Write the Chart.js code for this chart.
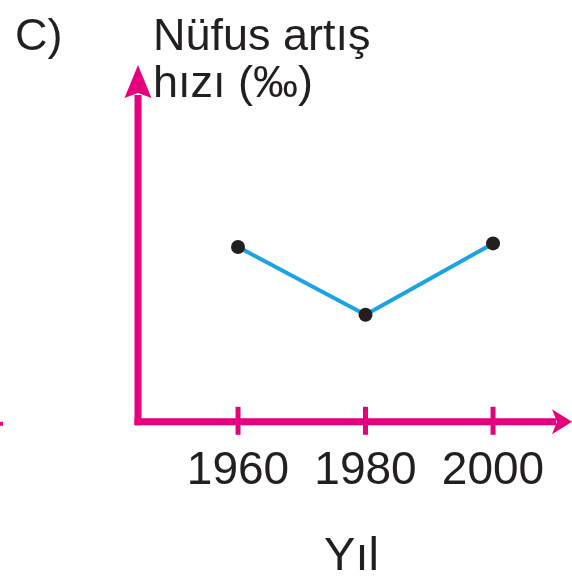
<!DOCTYPE html>
<html>
<head>
<meta charset="utf-8">
<script src="https://cdn.jsdelivr.net/npm/chart.js@4.4.1/dist/chart.umd.min.js"></script>
<style>
  body { margin: 0; background: #fff; }
  #wrap { width: 572px; height: 578px; position: relative; }
</style>
</head>
<body>
<div id="wrap"><canvas id="chart"></canvas></div>
<script>
// values
const years = [1960, 1980, 2000]
const rates = [4.9, 3.0, 5.0]
const xTicks = [1960, 1980, 2000]
const yTitle = ["Nüfus artış", "hızı (‰)"]
const xTitle = "Yıl"
const panelLabel = "C)"

const magenta = "#e6007e"
const ink = "#231f20"
const font = "'Liberation Sans', Arial, Helvetica, sans-serif"

// axes, arrows, tick marks and captions
const axesPlugin = {
    id: "axes",
    beforeDatasetsDraw(chart) {
        const ctx = chart.ctx
        const area = chart.chartArea
        const x = chart.scales.x
        const ox = area.left, oy = area.bottom
        const tipX = chart.width
        ctx.save()
        ctx.strokeStyle = magenta
        ctx.fillStyle = magenta
        ctx.lineWidth = 7
        ctx.lineCap = "butt"
        // y axis
        ctx.beginPath()
        ctx.moveTo(ox, oy + 3.5)
        ctx.lineTo(ox, area.top + 30)
        ctx.stroke()
        // x axis
        ctx.beginPath()
        ctx.moveTo(ox - 3.5, oy)
        ctx.lineTo(tipX - 16, oy)
        ctx.stroke()
        // arrow heads
        ctx.beginPath()
        ctx.moveTo(ox, area.top)
        ctx.lineTo(ox - 13.5, area.top + 33)
        ctx.lineTo(ox, area.top + 28)
        ctx.lineTo(ox + 13.5, area.top + 33)
        ctx.closePath()
        ctx.fill()
        ctx.beginPath()
        ctx.moveTo(tipX, oy)
        ctx.lineTo(tipX - 20, oy - 12.5)
        ctx.lineTo(tipX - 15, oy)
        ctx.lineTo(tipX - 20, oy + 12.5)
        ctx.closePath()
        ctx.fill()
        // tick marks
        ctx.lineWidth = 5
        xTicks.forEach(v => {
            const px = x.getPixelForValue(v)
            ctx.beginPath()
            ctx.moveTo(px, oy - 15)
            ctx.lineTo(px, oy + 13)
            ctx.stroke()
        })
        // bit of the neighbouring figure at the left edge
        ctx.fillRect(0, oy, 3, 4)

        // captions
        ctx.fillStyle = ink
        ctx.textBaseline = "alphabetic"
        ctx.textAlign = "left"
        ctx.font = "45px " + font
        ctx.fillText(panelLabel, 15, 50)
        ctx.fillText(yTitle[0], 153, 50)
        ctx.fillText(yTitle[1], 153, 97)
        ctx.restore()
    }
}

const chart = new Chart(document.getElementById("chart"), {
    type: "line",
    data: {
        datasets: [{
            data: years.map((y, i) => ({ x: y, y: rates[i] })),
            borderColor: "#1ba3e3",
            borderWidth: 4,
            pointRadius: 7,
            pointBackgroundColor: ink,
            pointBorderWidth: 0,
            tension: 0
        }]
    },
    options: {
        responsive: true,
        maintainAspectRatio: false,
        animation: false,
        layout: { padding: { left: 138, top: 65, right: 0, bottom: -3 } },
        plugins: { legend: { display: false }, tooltip: { enabled: false } },
        scales: {
            x: {
                type: "linear",
                min: 1944.31,
                max: 2011.29,
                afterBuildTicks: axis => { axis.ticks = xTicks.map(v => ({ value: v })) },
                grid: { display: false, drawTicks: false },
                border: { display: false },
                ticks: {
                    color: ink,
                    padding: 22,
                    font: { family: font, size: 46 },
                    callback: v => String(v)
                },
                title: {
                    display: true,
                    text: xTitle,
                    color: ink,
                    font: { family: font, size: 47, lineHeight: 1 },
                    padding: { top: 13, bottom: 0 }
                }
            },
            y: {
                display: false,
                min: 0,
                max: 10
            }
        }
    },
    plugins: [axesPlugin]
})
</script>
</body>
</html>
